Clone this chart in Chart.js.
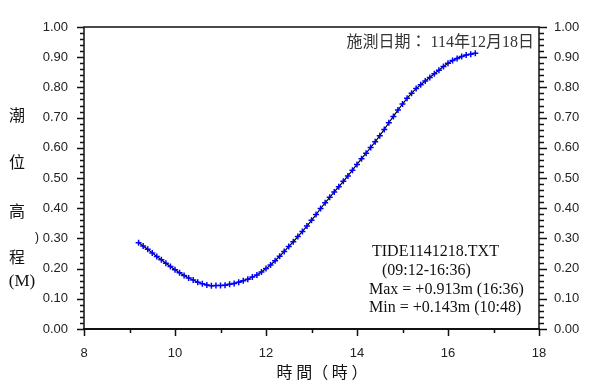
<!DOCTYPE html>
<html>
<head>
<meta charset="utf-8">
<script src="https://cdn.jsdelivr.net/npm/chart.js@4"></script>
<style>
  html, body { margin: 0; padding: 0; background: #fff; }
  #wrap { width: 589px; height: 390px; }
</style>
</head>
<body>
<div id="wrap"><canvas id="tideChart" width="589" height="390"></canvas></div>
<script>
// --- Data ---
const hours = [
    9.2, 9.3, 9.4, 9.5, 9.6, 9.7, 9.8, 9.9,
    10.0, 10.1, 10.2, 10.3, 10.4, 10.5, 10.6, 10.7, 10.8, 10.9,
    11.0, 11.1, 11.2, 11.3, 11.4, 11.5, 11.6, 11.7, 11.8, 11.9,
    12.0, 12.1, 12.2, 12.3, 12.4, 12.5, 12.6, 12.7, 12.8, 12.9,
    13.0, 13.1, 13.2, 13.3, 13.4, 13.5, 13.6, 13.7, 13.8, 13.9,
    14.0, 14.1, 14.2, 14.3, 14.4, 14.5, 14.6, 14.7, 14.8, 14.9,
    15.0, 15.1, 15.2, 15.3, 15.4, 15.5, 15.6, 15.7, 15.8, 15.9,
    16.0, 16.1, 16.2, 16.3, 16.4, 16.5, 16.6
];
const tideLevels = [
    0.286, 0.275, 0.264, 0.252, 0.240, 0.229, 0.218, 0.207,
    0.196, 0.186, 0.177, 0.169, 0.162, 0.155, 0.150, 0.146, 0.143, 0.144,
    0.144, 0.145, 0.148, 0.151, 0.155, 0.160, 0.165, 0.172, 0.179, 0.189,
    0.200, 0.212, 0.226, 0.241, 0.257, 0.273, 0.289, 0.306, 0.323, 0.341,
    0.360, 0.379, 0.399, 0.418, 0.436, 0.454, 0.471, 0.489, 0.507, 0.526,
    0.545, 0.564, 0.582, 0.601, 0.620, 0.640, 0.661, 0.683, 0.704, 0.725,
    0.745, 0.764, 0.781, 0.796, 0.809, 0.821, 0.833, 0.845, 0.857, 0.869,
    0.880, 0.889, 0.896, 0.902, 0.907, 0.910, 0.913
];
const xRange = [8, 18];
const yRange = [0, 1];
const dateLabel = '施測日期： 114年12月18日';
const infoLines = ['TIDE1141218.TXT', '(09:12-16:36)', 'Max = +0.913m (16:36)', 'Min = +0.143m (10:48)'];
const yTitleChars = ['潮', '位', '高', '程'];
const xTitle = '時 間（ 時 ）';

const tickFont = { family: '"Liberation Sans", Arial, sans-serif', size: 13 };
const cjkFont = '"Noto Sans CJK TC", "Noto Sans CJK SC", sans-serif';
const serifFont = '"Liberation Serif", "Times New Roman", serif';

// --- Frame, tick marks and annotations ---
const framePlugin = {
    id: 'frame',
    afterDraw(chart) {
        const { ctx, chartArea: a, scales } = chart;
        const xs = scales.x, ys = scales.y;
        ctx.save();
        ctx.strokeStyle = '#111';

        // box
        ctx.lineWidth = 1.5;
        ctx.strokeRect(a.left, a.top, a.right - a.left, a.bottom - a.top);
        ctx.lineWidth = 2;
        ctx.beginPath();
        ctx.moveTo(a.left - 1, a.bottom);
        ctx.lineTo(a.right + 1, a.bottom);
        ctx.stroke();

        // y ticks (left + right), minor every 0.02
        ctx.lineWidth = 1.5;
        ctx.beginPath();
        for (let i = 0; i <= 50; i++) {
            const y = Math.round(ys.getPixelForValue(i * 0.02)) + 0.5;
            const len = i % 5 === 0 ? 7 : 4;
            ctx.moveTo(a.left, y);
            ctx.lineTo(a.left - len, y);
            ctx.moveTo(a.right, y);
            ctx.lineTo(a.right + len + 1, y);
        }
        // x ticks, minor every 1
        for (let v = xRange[0]; v <= xRange[1]; v++) {
            const x = Math.round(xs.getPixelForValue(v)) + 0.5;
            const len = v % 2 === 0 ? 7 : 4;
            ctx.moveTo(x, a.bottom);
            ctx.lineTo(x, a.bottom + len);
        }
        ctx.stroke();

        // date label
        ctx.fillStyle = '#333';
        ctx.textBaseline = 'middle';
        ctx.textAlign = 'right';
        ctx.font = '16px "Liberation Serif", "Noto Sans CJK TC", serif';
        ctx.fillText(dateLabel, a.right - 5, 43);

        // file / max / min box
        ctx.fillStyle = '#111';
        ctx.textAlign = 'left';
        ctx.font = '16px ' + serifFont;
        const infoX = [372, 382, 369, 369];
        const infoY = [252, 271, 290, 308];
        infoLines.forEach((t, i) => ctx.fillText(t, infoX[i], infoY[i]));

        // y title, stacked characters
        ctx.textAlign = 'center';
        ctx.font = '16px ' + cjkFont;
        const titleY = [115, 162, 211, 257];
        yTitleChars.forEach((c, i) => ctx.fillText(c, 17, titleY[i]));
        ctx.font = '17px ' + serifFont;
        ctx.fillText('(M)', 22, 282);
        ctx.font = '12px ' + tickFont.family;
        ctx.fillText(')', 37, 238);

        // x title
        ctx.font = '16px ' + cjkFont;
        ctx.fillText(xTitle, 322, 372);
        ctx.restore();
    }
};

const yTicks = {
    stepSize: 0.1,
    color: '#222',
    font: tickFont,
    callback: (v) => Number(v).toFixed(2)
};

new Chart(document.getElementById('tideChart'), {
    type: 'line',
    data: {
        datasets: [{
            label: 'tide',
            data: hours.map((h, i) => ({ x: h, y: tideLevels[i] })),
            borderColor: '#000',
            borderWidth: 1.2,
            pointStyle: 'cross',
            pointRadius: 3,
            pointBorderColor: '#0000ff',
            pointBorderWidth: 1.5,
            pointBackgroundColor: '#0000ff',
            tension: 0
        }]
    },
    options: {
        responsive: false,
        animation: false,
        layout: { padding: { top: 27, right: 0, bottom: 0, left: 0 } },
        plugins: { legend: { display: false }, tooltip: { enabled: false } },
        scales: {
            x: {
                type: 'linear',
                min: xRange[0],
                max: xRange[1],
                grid: { display: false },
                border: { display: false },
                ticks: { stepSize: 2, color: '#222', font: tickFont, padding: 9, maxRotation: 0 },
                afterFit: (s) => { s.height = 61; }
            },
            y: {
                min: yRange[0],
                max: yRange[1],
                position: 'left',
                grid: { display: false },
                border: { display: false },
                ticks: { ...yTicks, padding: 8 },
                afterFit: (s) => { s.width = 84; }
            },
            y2: {
                min: yRange[0],
                max: yRange[1],
                position: 'right',
                grid: { display: false },
                border: { display: false },
                ticks: { ...yTicks, padding: 7 },
                afterFit: (s) => { s.width = 50; }
            }
        }
    },
    plugins: [framePlugin]
});
</script>
</body>
</html>
